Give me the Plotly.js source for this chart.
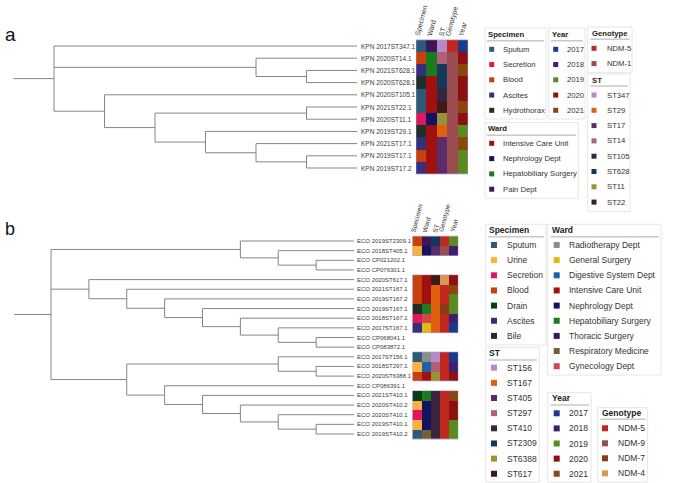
<!DOCTYPE html>
<html><head><meta charset="utf-8">
<script src="https://cdn.plot.ly/plotly-3.0.1.min.js"></script>
<style>html,body{margin:0;padding:0;background:#fff}#chart{width:685px;height:483px}</style>
</head><body><div id="chart"></div>
<script>
// ---------------- DATA ----------------
const treeA = "(KPN 2017ST347.1,(KPN 2020ST14.1,(KPN 2021ST628.1,KPN 2020ST628.1)),(KPN 2020ST105.1,((KPN 2021ST22.1,KPN 2020ST11.1),(KPN 2019ST29.1,(KPN 2021ST17.1,(KPN 2019ST17.1,KPN 2019ST17.2))))));";
const treeB = "((ECO 2019ST2309.1,(ECO 2018ST405.1,(ECO CP021202.1,ECO CP076301.1))),(ECO 2020ST617.1,(ECO 2021ST167.1,(ECO 2019ST167.2,(ECO 2019ST167.1,(ECO 2018ST167.1,(ECO 2017ST167.1,(ECO CP068041.1,ECO CP083872.1))))))),((ECO 2017ST156.1,(ECO 2018ST297.1,ECO 2020ST6388.1)),(ECO CP086391.1,(ECO 2021ST410.1,(ECO 2020ST410.2,(ECO 2020ST410.1,(ECO 2019ST410.1,ECO 2019ST410.2)))))));";
const rootEdgeA = 0.8, rootEdgeB = 0.97;

const headers = ["Specimen","Ward","ST","Genotype","Year"];

// panel a heatmap values (leaf order)
const aSpecimen = ["Sputum","Blood","Ascites","Hydrothorax","Sputum","Sputum","Secretion","Hydrothorax","Ascites","Blood","Ascites"];
const aWard = ["Pain Dept","Hepatobiliary Surgery","Hepatobiliary Surgery","Intensive Care Unit","Intensive Care Unit","Intensive Care Unit","Nephrology Dept","Intensive Care Unit","Intensive Care Unit","Intensive Care Unit","Intensive Care Unit"];
const aST = ["ST347","ST14","ST628","ST628","ST105","ST22","ST11","ST29","ST17","ST17","ST17"];
const aGenotype = ["NDM-5","NDM-1","NDM-1","NDM-1","NDM-1","NDM-1","NDM-1","NDM-1","NDM-1","NDM-1","NDM-1"];
const aYear = ["2017","2020","2021","2020","2020","2021","2020","2019","2021","2019","2019"];

// panel b heatmap values (leaf order, null = no metadata)
const bSpecimen = ["Blood","Urine",null,null,"Blood","Blood","Blood","Bile","Secretion","Ascites",null,null,"Sputum","Urine","Blood",null,"Drain","Urine","Secretion","Urine","Sputum"];
const bWard = ["Thoracic Surgery","Nephrology Dept",null,null,"Intensive Care Unit","Intensive Care Unit","Intensive Care Unit","Hepatobiliary Surgery","Gynecology Dept","General Surgery",null,null,"Radiotherapy Dept","Digestive System Dept","Intensive Care Unit",null,"Hepatobiliary Surgery","Nephrology Dept","Nephrology Dept","Nephrology Dept","Respiratory Medicine"];
const bST = ["ST2309","ST405",null,null,"ST617","ST167","ST167","ST167","ST167","ST167",null,null,"ST156","ST297","ST6388",null,"ST410","ST410","ST410","ST410","ST410"];
const bGenotype = ["NDM-5","NDM-9",null,null,"NDM-4","NDM-5","NDM-5","NDM-7","NDM-5","NDM-5",null,null,"NDM-5","NDM-5","NDM-5",null,"NDM-5","NDM-5","NDM-5","NDM-5","NDM-5"];
const bYear = ["2019","2018",null,null,"2020","2021","2019","2019","2018","2017",null,null,"2017","2018","2020",null,"2021","2020","2020","2019","2019"];

// legend categories and colours, panel a
const aSpecimenCats = ["Sputum","Secretion","Blood","Ascites","Hydrothorax"];
const aSpecimenCols = ["#2c5a78","#e0185a","#c8400c","#34307c","#1e2e28"];
const aYearCats = ["2017","2018","2019","2020","2021"];
const aYearCols = ["#1a3a8c","#3e1f6e","#5a8a20","#8c1010","#8c4610"];
const aGenotypeCats = ["NDM-5","NDM-1"];
const aGenotypeCols = ["#c0281e","#9a4c50"];
const aSTCats = ["ST347","ST29","ST17","ST14","ST105","ST628","ST11","ST22"];
const aSTCols = ["#b888c8","#e06010","#5a2c6a","#b06078","#3a2440","#12385c","#9a9236","#3c1c16"];
const aWardCats = ["Intensive Care Unit","Nephrology Dept","Hepatobiliary Surgery","Pain Dept"];
const aWardCols = ["#a0100e","#121462","#1c7a20","#3c1656"];

// legend categories and colours, panel b
const bSpecimenCats = ["Sputum","Urine","Secretion","Blood","Drain","Ascites","Bile"];
const bSpecimenCols = ["#2c5a78","#fbb040","#e0185a","#c8400c","#0a3c12","#34307c","#1e2e28"];
const bWardCats = ["Radiotherapy Dept","General Surgery","Digestive System Dept","Intensive Care Unit","Nephrology Dept","Hepatobiliary Surgery","Thoracic Surgery","Respiratory Medicine","Gynecology Dept"];
const bWardCols = ["#8c8c8c","#e2b818","#1a62a6","#a0100e","#121462","#1c7a20","#3c1656","#706234","#d04848"];
const bSTCats = ["ST156","ST167","ST405","ST297","ST410","ST2309","ST6388","ST617"];
const bSTCols = ["#b888c8","#e06010","#5a2c6a","#b06078","#3a2440","#12385c","#9a9236","#3c1c16"];
const bYearCats = ["2017","2018","2019","2020","2021"];
const bYearCols = ["#1a3a8c","#3e1f6e","#5a8a20","#8c1010","#8c4610"];
const bGenotypeCats = ["NDM-5","NDM-9","NDM-7","NDM-4"];
const bGenotypeCols = ["#c0281e","#9a4c50","#8c3c14","#d89850"];

// ---------------- LAYOUT HELPERS ----------------
const W = 685, H = 483;
const FONT = "Liberation Sans, Arial, sans-serif";
const LINE = "#858585";

function parseNewick(s) {
  s = s.trim().replace(/;$/, "");
  let i = 0;
  function node() {
    if (s[i] === "(") {
      i++;
      const ch = [node()];
      while (s[i] === ",") { i++; ch.push(node()); }
      i++;
      return { children: ch };
    }
    let name = "";
    while (i < s.length && !",)".includes(s[i])) name += s[i++];
    return { name: name.trim() };
  }
  return node();
}

function layoutTree(root) {
  const leaves = [];
  function walk(n) {
    if (!n.children) { n.y = leaves.length; leaves.push(n.name); n.h = 0; return; }
    n.children.forEach(walk);
    n.h = 1 + Math.max(...n.children.map(c => c.h));
    n.y = (n.children[0].y + n.children[n.children.length - 1].y) / 2;
  }
  walk(root);
  const maxH = root.h;
  function setX(n) { n.x = maxH - n.h; if (n.children) n.children.forEach(setX); }
  setX(root);
  return { leaves, maxH };
}

function treeSegments(root, rootEdge) {
  const xs = [], ys = [];
  xs.push(root.x - rootEdge, root.x, null); ys.push(root.y, root.y, null);
  function walk(n) {
    if (!n.children) return;
    const f = n.children[0], l = n.children[n.children.length - 1];
    xs.push(n.x, n.x, null); ys.push(f.y, l.y, null);
    n.children.forEach(c => { xs.push(n.x, c.x, null); ys.push(c.y, c.y, null); walk(c); });
  }
  walk(root);
  return { xs, ys };
}

const rootA = parseNewick(treeA), rootB = parseNewick(treeB);
const TA = layoutTree(rootA), TB = layoutTree(rootB);
const segA = treeSegments(rootA, rootEdgeA), segB = treeSegments(rootB, rootEdgeB);

// pixel geometry of each panel
const ax0 = 54, aStep = (357 - 54) / TA.maxH, ay0 = 46, aDy = 12.2;
const bx0 = 51, bStep = (354 - 51) / TB.maxH, by0 = 241, bDy = 9.65;

// discrete palette for heatmaps
function buildHeat(cols) {
  const palette = [];
  const z = [];
  const offsets = [];
  cols.forEach(c => { offsets.push(palette.length); c.cols.forEach(x => palette.push(x)); });
  const n = cols[0].vals.length;
  for (let r = 0; r < n; r++) {
    const row = [];
    cols.forEach((c, j) => {
      const v = c.vals[r];
      row.push(v == null ? null : offsets[j] + c.cats.indexOf(v));
    });
    z.push(row);
  }
  const N = palette.length;
  const cs = [];
  palette.forEach((c, k) => { cs.push([k / N, c]); cs.push([(k + 1) / N, c]); });
  return { z, cs, N };
}

const heatA = buildHeat([
  { vals: aSpecimen, cats: aSpecimenCats, cols: aSpecimenCols },
  { vals: aWard, cats: aWardCats, cols: aWardCols },
  { vals: aST, cats: aSTCats, cols: aSTCols },
  { vals: aGenotype, cats: aGenotypeCats, cols: aGenotypeCols },
  { vals: aYear, cats: aYearCats, cols: aYearCols }
]);
const heatB = buildHeat([
  { vals: bSpecimen, cats: bSpecimenCats, cols: bSpecimenCols },
  { vals: bWard, cats: bWardCats, cols: bWardCols },
  { vals: bST, cats: bSTCats, cols: bSTCols },
  { vals: bGenotype, cats: bGenotypeCats, cols: bGenotypeCols },
  { vals: bYear, cats: bYearCats, cols: bYearCols }
]);

const traces = [];
traces.push({ type: "scatter", mode: "lines", x: segA.xs, y: segA.ys, xaxis: "x", yaxis: "y",
  line: { color: LINE, width: 1 }, hoverinfo: "skip", showlegend: false });
traces.push({ type: "scatter", mode: "lines", x: segB.xs, y: segB.ys, xaxis: "x2", yaxis: "y2",
  line: { color: LINE, width: 1 }, hoverinfo: "skip", showlegend: false });

traces.push({ type: "heatmap", z: heatA.z, x: [0,1,2,3,4], y: TA.leaves.map((_, i) => i),
  xaxis: "x3", yaxis: "y", colorscale: heatA.cs, zmin: -0.5, zmax: heatA.N - 0.5,
  showscale: false, hoverinfo: "skip" });
traces.push({ type: "heatmap", z: heatB.z, x: [0,1,2,3,4], y: TB.leaves.map((_, i) => i),
  xaxis: "x4", yaxis: "y2", colorscale: heatB.cs, zmin: -0.5, zmax: heatB.N - 0.5,
  showscale: false, hoverinfo: "skip" });

const annotations = [];
const shapes = [];

// block outlines around heatmap rows with data
function outlines(zs, xref, yref) {
  let start = null;
  for (let r = 0; r <= zs.length; r++) {
    const has = r < zs.length && zs[r].some(v => v != null);
    if (has && start === null) start = r;
    if (!has && start !== null) {
      shapes.push({ type: "rect", xref, yref, x0: -0.5, x1: 4.5, y0: start - 0.5, y1: r - 0.5,
        line: { color: "rgba(175,165,215,0.8)", width: 0.8 }, fillcolor: "rgba(0,0,0,0)" });
      start = null;
    }
  }
}
outlines(heatA.z, "x3", "y");
outlines(heatB.z, "x4", "y2");

// leaf labels
TA.leaves.forEach((name, i) => annotations.push({ x: TA.maxH + 3 / aStep, y: i, xref: "x", yref: "y",
  text: name, showarrow: false, xanchor: "left", yanchor: "middle", borderpad: 0,
  font: { family: FONT, size: 6.5, color: "#3c3c3c" } }));
TB.leaves.forEach((name, i) => annotations.push({ x: TB.maxH + 2 / bStep, y: i, xref: "x2", yref: "y2",
  text: name, showarrow: false, xanchor: "left", yanchor: "middle", borderpad: 0,
  font: { family: FONT, size: 6, color: "#3c3c3c" } }));

// column headers
function headerLabels(xref, yPix, fs) {
  headers.forEach((h, j) => annotations.push({ x: j, y: yPix, xref, yref: "y5", text: h,
    textangle: -75, showarrow: false, xanchor: "center", yanchor: "bottom", borderpad: 0,
    font: { family: FONT, size: fs, color: "#333" } }));
}
headerLabels("x3", 38, 7);
headerLabels("x4", 234, 6.5);

// panel letters
annotations.push({ x: 3, y: 34, xref: "x5", yref: "y5", text: "a", showarrow: false, xanchor: "left",
  yanchor: "middle", font: { family: FONT, size: 19, color: "#111" } });
annotations.push({ x: 3, y: 229, xref: "x5", yref: "y5", text: "b", showarrow: false, xanchor: "left",
  yanchor: "middle", font: { family: FONT, size: 18, color: "#111" } });

// legends
function legendBox(title, cats, cols, g) {
  shapes.push({ type: "rect", xref: "x5", yref: "y5", x0: g.x0, x1: g.x1, y0: g.y0, y1: g.y1,
    line: { color: "#e6e6e6", width: 1 }, fillcolor: "rgba(255,255,255,0)" });
  annotations.push({ x: g.tx, y: g.ty, xref: "x5", yref: "y5", text: "<b>" + title + "</b>",
    showarrow: false, xanchor: "left", yanchor: "middle", borderpad: 0,
    font: { family: FONT, size: g.fs, color: "#222" } });
  shapes.push({ type: "line", xref: "x5", yref: "y5", x0: g.tx, x1: g.x1 - 2, y0: g.uy, y1: g.uy,
    line: { color: "#c8c8c8", width: 1.5 } });
  const ys = cats.map((_, k) => g.fy + k * g.dy);
  traces.push({ type: "scatter", mode: "markers", x: cats.map(() => g.sx), y: ys, xaxis: "x5", yaxis: "y5",
    marker: { symbol: "square", size: g.ms, color: cols, line: { width: 0 } }, hoverinfo: "skip", showlegend: false });
  cats.forEach((c, k) => annotations.push({ x: g.lx, y: ys[k], xref: "x5", yref: "y5", text: c,
    showarrow: false, xanchor: "left", yanchor: "middle", borderpad: 0,
    font: { family: FONT, size: g.fs, color: "#333" } }));
}
const fa = 7.7, fb = 8.5;
legendBox("Specimen", aSpecimenCats, aSpecimenCols, { x0: 485, x1: 546, y0: 28, y1: 119, tx: 487, ty: 34, uy: 40.7, fy: 49.3, dy: 15.25, sx: 491.7, lx: 501.5, fs: fa, ms: 5 });
legendBox("Year", aYearCats, aYearCols, { x0: 548.7, x1: 585, y0: 28, y1: 119, tx: 551, ty: 34, uy: 40.7, fy: 49.3, dy: 15.25, sx: 555.7, lx: 565.5, fs: fa, ms: 5 });
legendBox("Genotype", aGenotypeCats, aGenotypeCols, { x0: 587.7, x1: 632, y0: 27, y1: 72.7, tx: 590.5, ty: 33.3, uy: 39.3, fy: 48.3, dy: 15.3, sx: 594, lx: 605.5, fs: fa, ms: 5 });
legendBox("ST", aSTCats, aSTCols, { x0: 587.7, x1: 630, y0: 74, y1: 211.7, tx: 590.5, ty: 80, uy: 86, fy: 95, dy: 15.3, sx: 594, lx: 605.5, fs: fa, ms: 5 });
legendBox("Ward", aWardCats, aWardCols, { x0: 485, x1: 578.3, y0: 122.7, y1: 198.3, tx: 487, ty: 128.3, uy: 135.3, fy: 143.3, dy: 15.3, sx: 491.7, lx: 501.5, fs: fa, ms: 5 });

legendBox("Specimen", bSpecimenCats, bSpecimenCols, { x0: 485.7, x1: 546, y0: 224.3, y1: 345, tx: 488.3, ty: 230, uy: 236.7, fy: 245, dy: 15.15, sx: 494, lx: 505.5, fs: fb, ms: 6 });
legendBox("Ward", bWardCats, bWardCols, { x0: 547.7, x1: 661, y0: 224.3, y1: 375, tx: 550.5, ty: 230, uy: 236.7, fy: 245, dy: 15.15, sx: 556.7, lx: 568.2, fs: fb, ms: 6 });
legendBox("ST", bSTCats, bSTCols, { x0: 485.7, x1: 539.3, y0: 347.7, y1: 482, tx: 488.3, ty: 353.3, uy: 360, fy: 367.7, dy: 15.15, sx: 494, lx: 505.5, fs: fb, ms: 6 });
legendBox("Year", bYearCats, bYearCols, { x0: 547.7, x1: 591, y0: 392.7, y1: 482, tx: 550.5, ty: 398.3, uy: 405, fy: 413.3, dy: 15.1, sx: 556.7, lx: 568.2, fs: fb, ms: 6 });
legendBox("Genotype", bGenotypeCats, bGenotypeCols, { x0: 597.7, x1: 647.7, y0: 407.7, y1: 482, tx: 600.5, ty: 413.3, uy: 419.3, fy: 428.3, dy: 15.0, sx: 605, lx: 617.2, fs: fb, ms: 6 });

const hidden = { visible: false, fixedrange: true, showgrid: false, zeroline: false };
const layout = {
  width: W, height: H, margin: { l: 0, r: 0, t: 0, b: 0, pad: 0 },
  paper_bgcolor: "#ffffff", plot_bgcolor: "rgba(0,0,0,0)", showlegend: false,
  font: { family: FONT },
  xaxis: Object.assign({ domain: [0, 1], range: [-ax0 / aStep, (W - ax0) / aStep], anchor: "y" }, hidden),
  yaxis: Object.assign({ domain: [0, 1], range: [(H - ay0) / aDy, -ay0 / aDy], anchor: "x" }, hidden),
  xaxis2: Object.assign({ domain: [0, 1], range: [-bx0 / bStep, (W - bx0) / bStep], anchor: "y2" }, hidden),
  yaxis2: Object.assign({ domain: [0, 1], range: [(H - by0) / bDy, -by0 / bDy], anchor: "x2" }, hidden),
  xaxis3: Object.assign({ domain: [416 / W, 468 / W], range: [-0.5, 4.5], anchor: "y" }, hidden),
  xaxis4: Object.assign({ domain: [412.3 / W, 458.3 / W], range: [-0.5, 4.5], anchor: "y2" }, hidden),
  xaxis5: Object.assign({ domain: [0, 1], range: [0, W], anchor: "y5" }, hidden),
  yaxis5: Object.assign({ domain: [0, 1], range: [H, 0], anchor: "x5" }, hidden),
  annotations, shapes
};
Plotly.newPlot("chart", traces, layout, { staticPlot: true, displayModeBar: false });
</script></body></html>
